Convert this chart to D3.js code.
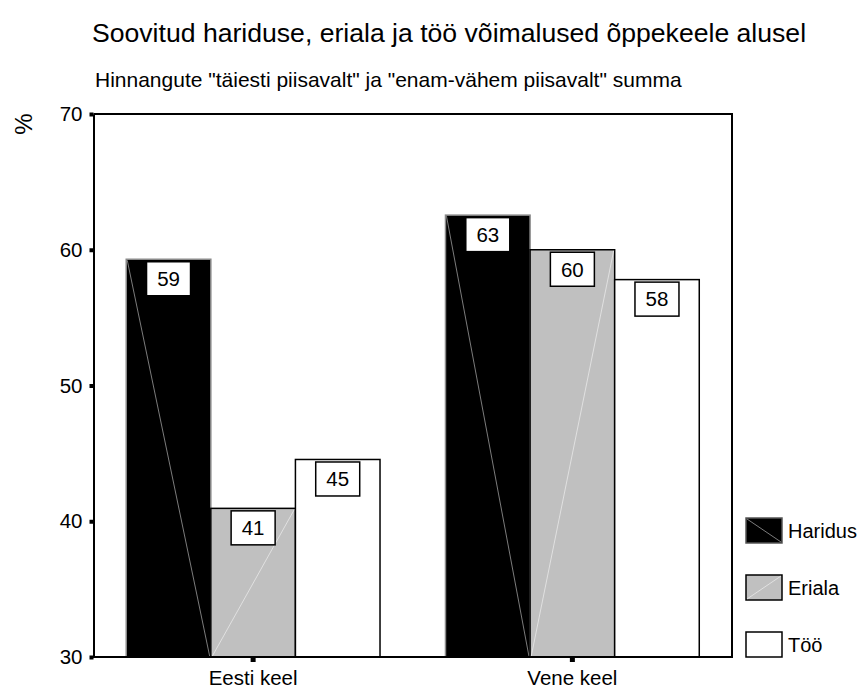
<!DOCTYPE html>
<html>
<head>
<meta charset="utf-8">
<script src="https://cdn.jsdelivr.net/npm/d3@7"></script>
<style>
  body { margin: 0; background: #fff; }
  text { font-family: "Liberation Sans", Arial, sans-serif; fill: #000; }
</style>
</head>
<body>
<div id="chart"></div>
<script>
// data
const categories = ["Eesti keel", "Vene keel"];
const series = ["Haridus", "Eriala", "Töö"];
const haridus = [59.3, 62.55];
const eriala = [40.95, 60.0];
const too = [44.55, 57.8];
const yTicks = [30, 40, 50, 60, 70];
const titleText = "Soovitud hariduse, eriala ja töö võimalused õppekeele alusel";
const subtitleText = "Hinnangute \"täiesti piisavalt\" ja \"enam-vähem piisavalt\" summa";

const rows = categories.map((c, i) => ({cat: c, values: [haridus[i], eriala[i], too[i]]}));

const width = 863, height = 688;
const plot = {left: 93.5, right: 732, top: 114, bottom: 657};

// look of each series (SPSS style, with the odd diagonal line)
const fills = ["#000000", "#c0c0c0", "#ffffff"];
const strokes = ["#8a8a8a", "#000000", "#000000"];
const diag = [{dir: "down", color: "#9a9a9a"}, {dir: "up", color: "#e8e8e8"}, null];

const svg = d3.select("#chart").append("svg")
    .attr("width", width)
    .attr("height", height);

const x0 = d3.scaleBand()
    .domain(categories)
    .range([plot.left, plot.right])
    .padding(0);

const x1 = d3.scaleBand()
    .domain(series)
    .range([0, x0.bandwidth()])
    .paddingInner(0)
    .paddingOuter(0.387);

const y = d3.scaleLinear()
    .domain([30, 70])
    .range([plot.bottom, plot.top]);

// titles
svg.append("text")
    .attr("x", 92).attr("y", 42)
    .style("font-size", "26.6px")
    .text(titleText);

svg.append("text")
    .attr("x", 95).attr("y", 87)
    .style("font-size", "21px")
    .text(subtitleText);

// bars
const groups = svg.selectAll(".cat")
    .data(rows)
    .join("g")
    .attr("class", "cat")
    .attr("transform", d => `translate(${x0(d.cat)},0)`);

const bars = groups.selectAll(".bar")
    .data(d => d.values.map((v, i) => ({key: series[i], i: i, value: v})))
    .join("g")
    .attr("class", "bar");

bars.append("rect")
    .attr("x", d => x1(d.key))
    .attr("y", d => y(d.value))
    .attr("width", x1.bandwidth())
    .attr("height", d => y(30) - y(d.value))
    .attr("fill", d => fills[d.i])
    .attr("stroke", d => strokes[d.i])
    .attr("stroke-width", 1.5);

bars.filter(d => diag[d.i] !== null)
    .append("line")
    .attr("x1", d => x1(d.key) + 1)
    .attr("x2", d => x1(d.key) + x1.bandwidth() - 1)
    .attr("y1", d => diag[d.i].dir === "down" ? y(d.value) + 1 : y(30))
    .attr("y2", d => diag[d.i].dir === "down" ? y(30) : y(d.value) + 1)
    .attr("stroke", d => diag[d.i].color)
    .attr("stroke-width", 0.8);

// value boxes
const boxW = 44, boxH = 34;
const labels = bars.append("g")
    .attr("transform", d => `translate(${x1(d.key) + x1.bandwidth() / 2},${y(d.value) + 2.5})`);

labels.append("rect")
    .attr("x", -boxW / 2)
    .attr("y", 0)
    .attr("width", boxW)
    .attr("height", boxH)
    .attr("fill", "#fff")
    .attr("stroke", "#000")
    .attr("stroke-width", 1.5);

labels.append("text")
    .attr("x", 0)
    .attr("y", boxH / 2)
    .attr("dy", "0.36em")
    .attr("text-anchor", "middle")
    .style("font-size", "20.5px")
    .text(d => Math.round(d.value));

// frame
svg.append("line")
    .attr("x1", plot.left).attr("x2", plot.right + 1)
    .attr("y1", plot.top).attr("y2", plot.top)
    .attr("stroke", "#000").attr("stroke-width", 2);
svg.append("line")
    .attr("x1", plot.right).attr("x2", plot.right)
    .attr("y1", plot.top).attr("y2", plot.bottom)
    .attr("stroke", "#000").attr("stroke-width", 2);

// y axis
const yAxis = d3.axisLeft(y)
    .tickValues(yTicks)
    .tickSize(0)
    .tickPadding(11);

const yAxisG = svg.append("g")
    .attr("transform", `translate(${plot.left},0)`)
    .call(yAxis);
yAxisG.select(".domain").attr("stroke", "#000").attr("stroke-width", 2);
yAxisG.selectAll("text")
    .style("font-size", "20.5px")
    .style("font-family", "\"Liberation Sans\", Arial, sans-serif");
yAxisG.selectAll(".tick").append("rect")
    .attr("x", -4).attr("y", -2)
    .attr("width", 4).attr("height", 4)
    .attr("fill", "#000");

// x axis
const xAxis = d3.axisBottom(x0)
    .tickSize(0)
    .tickPadding(13);

const xAxisG = svg.append("g")
    .attr("transform", `translate(0,${plot.bottom})`)
    .call(xAxis);
xAxisG.select(".domain")
    .attr("d", `M${plot.left - 2.5},0H${plot.right + 1}`)
    .attr("stroke", "#000").attr("stroke-width", 2);
xAxisG.selectAll("text")
    .style("font-size", "20.5px")
    .style("font-family", "\"Liberation Sans\", Arial, sans-serif");
xAxisG.selectAll(".tick").append("rect")
    .attr("x", -2.5).attr("y", 1)
    .attr("width", 5).attr("height", 4)
    .attr("fill", "#000");

// y axis unit
svg.append("text")
    .attr("transform", "translate(32,124) rotate(-90)")
    .attr("text-anchor", "middle")
    .style("font-size", "24px")
    .text("%");

// legend
const legend = svg.append("g")
    .attr("transform", "translate(746,518)");

const items = legend.selectAll(".item")
    .data(series)
    .join("g")
    .attr("class", "item")
    .attr("transform", (d, i) => `translate(0,${i * 57})`);

items.append("rect")
    .attr("width", 36).attr("height", 25)
    .attr("fill", (d, i) => fills[i])
    .attr("stroke", (d, i) => i === 0 ? "#555" : "#000")
    .attr("stroke-width", 1.5);

items.filter((d, i) => diag[i] !== null)
    .append("line")
    .attr("x1", 1).attr("x2", 35)
    .attr("y1", (d, i) => diag[i].dir === "down" ? 1 : 24)
    .attr("y2", (d, i) => diag[i].dir === "down" ? 24 : 1)
    .attr("stroke", (d, i) => diag[i].color)
    .attr("stroke-width", 0.8);

items.append("text")
    .attr("x", 42)
    .attr("y", 13)
    .attr("dy", "0.36em")
    .style("font-size", "20px")
    .text(d => d);
</script>
</body>
</html>
